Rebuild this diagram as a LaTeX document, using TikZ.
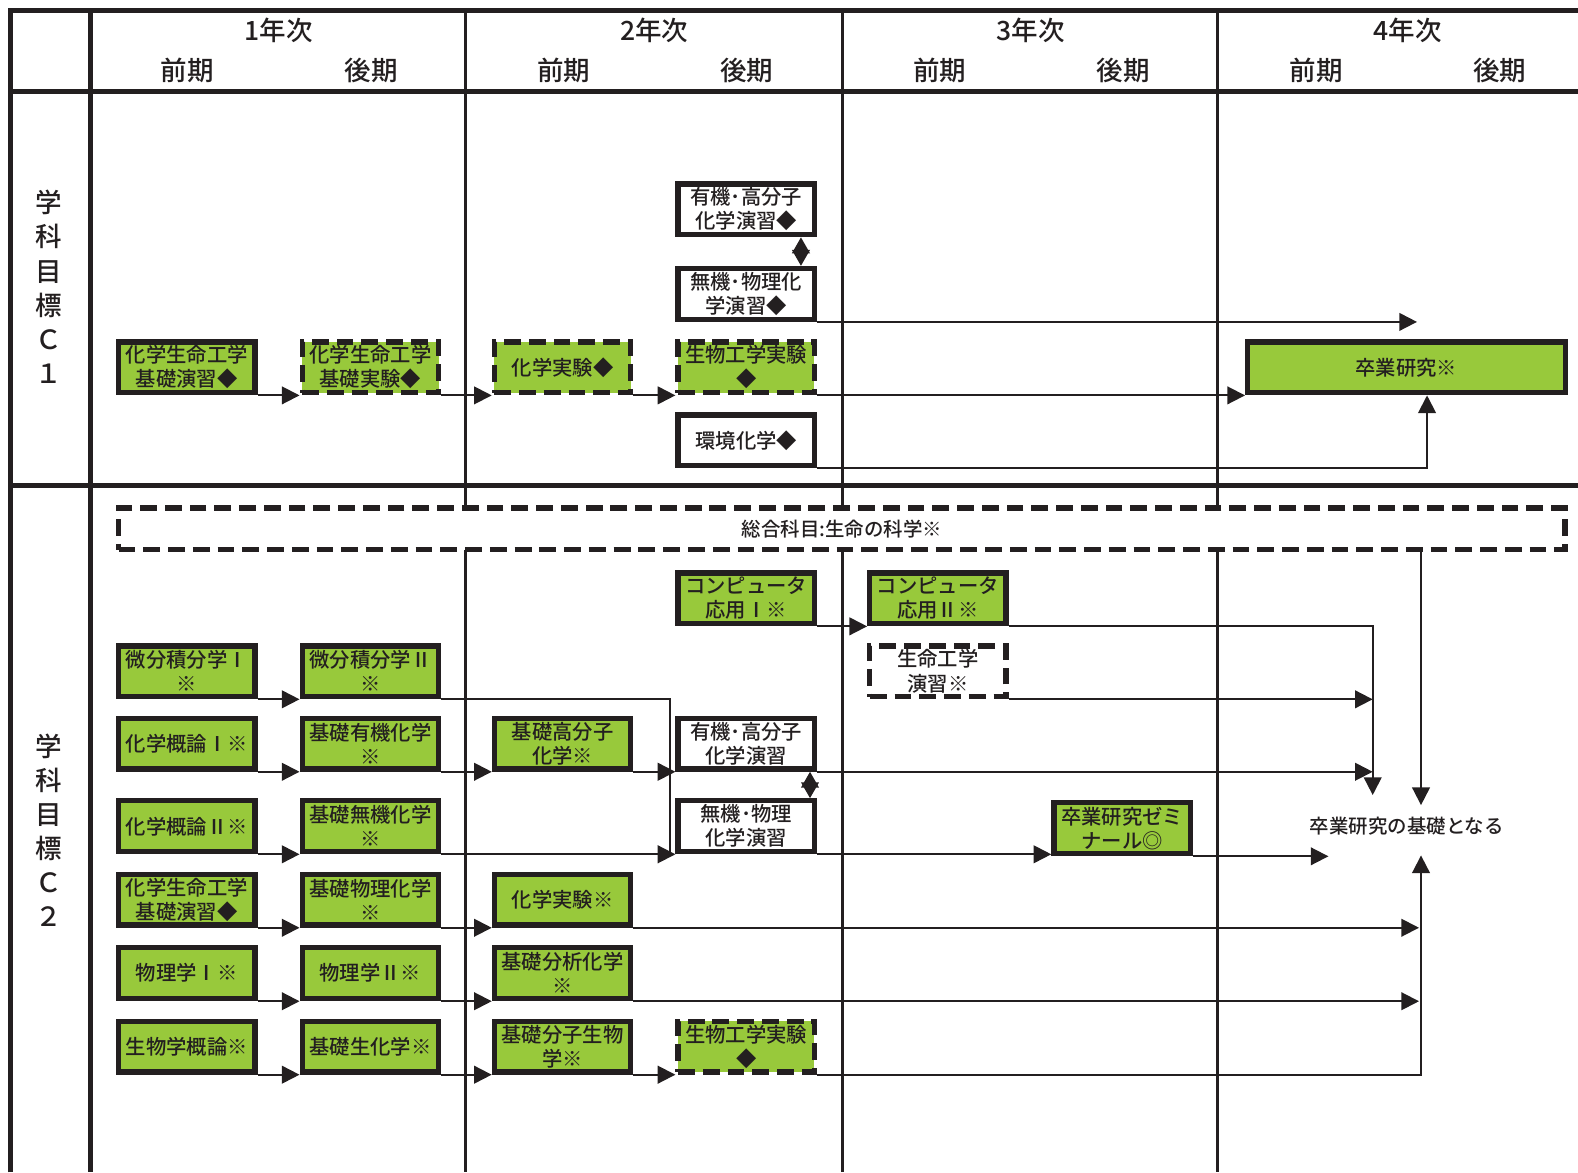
\documentclass[tikz,border=0pt]{standalone}
\usepackage{fontspec}
\usetikzlibrary{positioning,arrows.meta,calc}
\setmainfont{Noto Sans CJK JP}[UprightFont={* Medium}]
\definecolor{ink}{RGB}{35,31,32}
\definecolor{leaf}{RGB}{152,201,59}
\newcommand{\bx}{\fontsize{11.5pt}{13.6pt}\selectfont}
\newcommand{\hd}{\fontsize{15pt}{18pt}\selectfont}

\begin{document}
\begin{tikzpicture}[x=0.02cm,y=-0.02cm,
 g/.style={draw=ink,line width=3pt,fill=leaf,text=ink,align=center,inner sep=0pt,font=\bx,minimum width=2.71cm,minimum height=1.01cm},
 w/.style={g,fill=white},
 d/.style={dash pattern=on 9.5pt off 4.5pt},
 a/.style={-{Triangle[length=10pt,width=10pt]},line width=1.1pt,draw=ink},
 aa/.style={{Triangle[length=9pt,width=10pt]}-{Triangle[length=9pt,width=10pt]},line width=1.1pt,draw=ink},
 l/.style={line width=1.1pt,draw=ink},
 fr/.style={line width=2.8pt,draw=ink},
 yr/.style={line width=1.7pt,draw=ink},
 rl/.style={align=center,text=ink,font=\fontsize{15pt}{19.3pt}\selectfont}]
\useasboundingbox (0,0) rectangle (1568,1165);
\draw[fr] (10,1165) -- (10,10) -- (1568,10);
\draw[fr] (90,10) -- (90,1165);
\draw[fr] (10,91) -- (1568,91);
\draw[fr] (10,482) -- (1568,482);
\foreach \x in {463,837,1210} \draw[yr] (\x,10) -- (\x,1165);
\foreach \t/\x in {1/277,2/650,3/1024,4/1399} \node[text=ink,font=\hd] (y\t) at (\x,30) {\t{}年次};
\foreach \x/\t [count=\i] in {186/前期,369/後期,560/前期,742/後期,934/前期,1116/後期,1308/前期,1490/後期}
 \node[text=ink,font=\hd] (s\i) at (\x,70) {\t};
\node[rl] (c1) at (48,285) {学\\科\\目\\標\\Ｃ\\１};
\node[rl] (c2) at (48,825) {学\\科\\目\\標\\Ｃ\\２};

\node[w] (yu1) at (741.5,208) {有機･高分子\\化学演習◆};
\node[w] (mu1) at (741.5,292) {無機･物理化\\学演習◆};
\node[g] (ke1) at (185.5,365) {化学生命工学\\基礎演習◆};
\node[g,d] (jk1) at (368,365) {化学生命工学\\基礎実験◆};
\node[g,d] (kj1) at (559,365) {化学実験◆};
\node[g,d] (sb1) at (741.5,365) {生物工学実験\\◆};
\node[w] (kk1) at (741.5,437.5) {環境化学◆};
\node[g,minimum width=6.31cm] (sk) at (1397.5,365) {卒業研究※};
\coordinate (e1) at (1408,0);
\draw[a] (ke1.south east) -- (jk1.south west);\draw[a] (jk1.south east) -- (kj1.south west);
\draw[a] (kj1.south east) -- (sb1.south west);\draw[a] (sb1.south east) -- (sk.south west);
\draw[aa] ([xshift=-0.32cm]yu1.south east) -- ([xshift=-0.32cm]mu1.north east);
\draw[a] (mu1.south east) -- (mu1.south east -| e1);
\draw[a] (kk1.south east) -| ([xshift=0.41cm]sk.south);

\node[w,d,minimum width=28.75cm,minimum height=0.83cm,font=\fontsize{11pt}{13pt}\selectfont] (sg) at (836.5,525.5) {総合科目:生命の科学※};
\node[g] (ca1) at (741.5,594.5) {コンピュータ\\応用Ⅰ※};
\node[g] (ca2) at (932,594.5) {コンピュータ\\応用Ⅱ※};
\node[g] (bs1) at (185.5,667) {微分積分学Ⅰ\\※};
\node[g] (bs2) at (368,667) {微分積分学Ⅱ\\※};
\node[w,d] (se) at (932,667) {生命工学\\演習※};
\node[g] (gr1) at (185.5,739) {化学概論Ⅰ※};
\node[g] (yk) at (368,739) {基礎有機化学\\※};
\node[g] (kb) at (559,739) {基礎高分子\\化学※};
\node[w] (yu2) at (741.5,739) {有機･高分子\\化学演習};
\node[g] (gr2) at (185.5,821) {化学概論Ⅱ※};
\node[g] (mk) at (368,821) {基礎無機化学\\※};
\node[w] (mu2) at (741.5,821) {無機･物理\\化学演習};
\node[g] (zm) at (1115,823) {卒業研究ゼミ\\ナール◎};
\node[text=ink,font=\fontsize{11pt}{13pt}\selectfont] (kiso) at (1398,821) {卒業研究の基礎となる};
\node[g] (ke2) at (185.5,894) {化学生命工学\\基礎演習◆};
\node[g] (bk) at (368,894) {基礎物理化学\\※};
\node[g] (kj2) at (559,894) {化学実験※};
\node[g] (bt1) at (185.5,967) {物理学Ⅰ※};
\node[g] (bt2) at (368,967) {物理学Ⅱ※};
\node[g] (bn) at (559,967) {基礎分析化学\\※};
\node[g] (sb0) at (185.5,1040) {生物学概論※};
\node[g] (bsk) at (368,1040) {基礎生化学※};
\node[g] (bm) at (559,1040) {基礎分子生物\\学※};
\node[g,d] (sb2) at (741.5,1040) {生物工学実験\\◆};

\coordinate (v1) at (1364,790);\coordinate (v2) at (1412,800);\coordinate (v3) at (1320,0);
\coordinate (v4) at (1410,0);\coordinate (v5) at (1412,850);\coordinate (j1) at (666,0);
\draw[a] (ca1.south east) -- (ca2.south west);\draw[a] (ca2.south east) -| (v1);
\draw[a] (se.south east) -- (se.south east -| v1);\draw[a] (yu2.south east) -- (yu2.south east -| v1);
\draw[a] (sg.south -| v2) -- (v2);
\draw[a] (bs1.south east) -- (bs2.south west);\draw[l] (bs2.south east) -| (j1 |- mu2.south);
\draw[a] (gr1.south east) -- (yk.south west);\draw[a] (yk.south east) -- (kb.south west);\draw[a] (kb.south east) -- (yu2.south west);
\draw[a] (gr2.south east) -- (mk.south west);\draw[a] (mk.south east) -- (mu2.south west);
\draw[aa] ([xshift=-0.14cm]yu2.south east) -- ([xshift=-0.14cm]mu2.north east);
\draw[a] (mu2.south east) -- (mu2.south east -| zm.west);\draw[a] (zm.south east) -- (zm.south east -| v3);
\draw[a] (ke2.south east) -- (bk.south west);\draw[a] (bk.south east) -- (kj2.south west);\draw[a] (kj2.south east) -- (kj2.south east -| v4);
\draw[a] (bt1.south east) -- (bt2.south west);\draw[a] (bt2.south east) -- (bn.south west);\draw[a] (bn.south east) -- (bn.south east -| v4);
\draw[a] (sb0.south east) -- (bsk.south west);\draw[a] (bsk.south east) -- (bm.south west);\draw[a] (bm.south east) -- (sb2.south west);
\draw[a] (sb2.south east) -| (v5);
\end{tikzpicture}
\end{document}
